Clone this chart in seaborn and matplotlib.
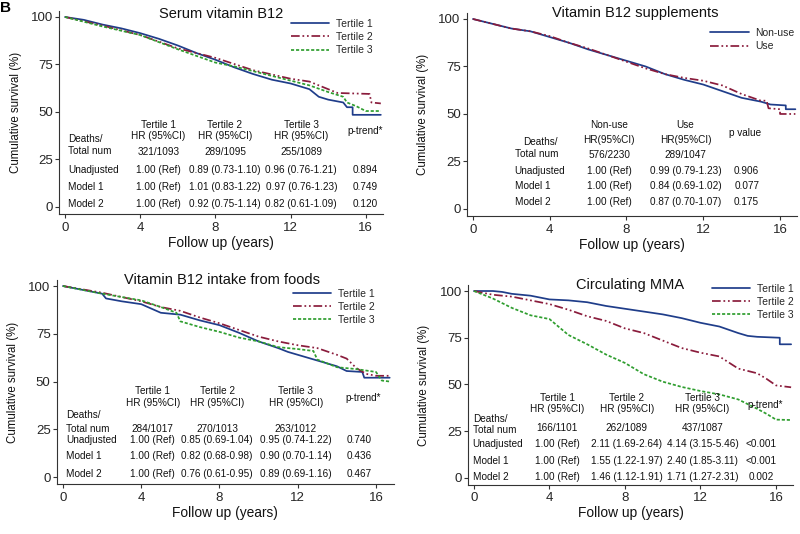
import matplotlib
matplotlib.use("Agg")
import matplotlib.pyplot as plt
import seaborn as sns
import pandas as pd

sns.set_theme(style="white")
plt.rcParams['font.family'] = ['Liberation Sans', 'DejaVu Sans']

# ---------------- data ----------------
# Panel 1: Serum vitamin B12
serum_t1_time = [0, 1, 2, 3, 4, 5, 6, 7, 8, 9, 10, 11, 12, 13, 13.5, 14, 14.8, 15, 15.3, 15.3, 16.8]
serum_t1_surv = [100, 98.5, 96, 94, 91.5, 88.5, 85, 81, 77.5, 73.5, 70, 67, 65, 62, 58, 56.5, 55, 52.5, 52.5, 48.5, 48.5]
serum_t2_time = [0, 2, 4, 6, 8, 10, 12, 13, 14, 14.5, 16.2, 16.3, 16.8]
serum_t2_surv = [100, 95.5, 90.5, 83.5, 78.5, 72, 67.5, 66, 62, 60, 59.5, 55, 54.5]
serum_t3_time = [0, 2, 4, 6, 7, 8, 9, 10, 11, 12, 13, 14, 14.8, 15, 15.5, 16, 16.8]
serum_t3_surv = [100, 95, 90.5, 83, 79.5, 76, 74, 71.5, 69, 66.5, 64, 60.5, 58, 55, 53, 50.5, 50.5]
serum_groups = ['Tertile 1', 'Tertile 2', 'Tertile 3']
serum_counts = ['321/1093', '289/1095', '255/1089']
serum_unadj = ['1.00 (Ref)', '0.89 (0.73-1.10)', '0.96 (0.76-1.21)']
serum_m1 = ['1.00 (Ref)', '1.01 (0.83-1.22)', '0.97 (0.76-1.23)']
serum_m2 = ['1.00 (Ref)', '0.92 (0.75-1.14)', '0.82 (0.61-1.09)']
serum_p = ['0.894', '0.749', '0.120']

# Panel 2: Vitamin B12 supplements
supp_non_time = [0, 2, 3, 4, 5, 6, 7, 8, 9, 10, 11, 12, 13, 14, 15, 15.5, 16.3, 16.3, 16.8]
supp_non_surv = [100, 95, 93.5, 90.5, 87.5, 84, 81, 78, 75, 71, 68, 65.5, 62, 58.5, 56.5, 55, 54.5, 52.5, 52.5]
supp_use_time = [0, 2, 3, 4, 5, 6, 7, 8, 9, 10, 11, 12, 13, 14, 15, 15.3, 15.4, 16, 16, 16.8]
supp_use_surv = [100, 95, 93.5, 91, 87.5, 84.5, 81, 77.5, 74, 71, 69, 67.5, 65, 60.5, 57, 57, 53, 52.5, 50, 50]
supp_groups = ['Non-use', 'Use']
supp_counts = ['576/2230', '289/1047']
supp_unadj = ['1.00 (Ref)', '0.99 (0.79-1.23)']
supp_m1 = ['1.00 (Ref)', '0.84 (0.69-1.02)']
supp_m2 = ['1.00 (Ref)', '0.87 (0.70-1.07)']
supp_p = ['0.906', '0.077', '0.175']

# Panel 3: Vitamin B12 intake from foods
food_t1_time = [0, 1, 2, 2.2, 3, 4, 5, 6, 7, 8, 9, 10, 11, 11.5, 12, 13, 14, 14.5, 15.3, 15.4, 16.7]
food_t1_surv = [100, 98, 96, 93.5, 92, 90.5, 86, 85, 82, 79.5, 75.5, 71, 67.5, 65.5, 64, 61, 58, 55.5, 55, 52, 52]
food_t2_time = [0, 2, 4, 5, 6, 7, 8, 9, 10, 11, 12, 13, 14, 14.5, 15, 15.5, 16, 16.7]
food_t2_surv = [100, 96.5, 92, 89, 87, 83.5, 80.5, 77, 73.5, 71, 69, 67.5, 64, 62, 57, 54, 53, 53]
food_t3_time = [0, 2, 4, 5, 5.8, 6, 7, 8, 9, 10, 11, 12, 12.8, 13, 14, 15, 16, 16.3, 16.7]
food_t3_surv = [100, 96, 92.5, 89, 86, 81.5, 78.5, 76, 73, 71, 68, 67, 66, 61.5, 57.5, 56.5, 55, 50.5, 50]
food_groups = ['Tertile 1', 'Tertile 2', 'Tertile 3']
food_counts = ['284/1017', '270/1013', '263/1012']
food_unadj = ['1.00 (Ref)', '0.85 (0.69-1.04)', '0.95 (0.74-1.22)']
food_m1 = ['1.00 (Ref)', '0.82 (0.68-0.98)', '0.90 (0.70-1.14)']
food_m2 = ['1.00 (Ref)', '0.76 (0.61-0.95)', '0.89 (0.69-1.16)']
food_p = ['0.740', '0.436', '0.467']

# Panel 4: Circulating MMA
mma_t1_time = [0, 1, 1.5, 2, 3, 4, 5, 6, 7, 8, 9, 10, 11, 12, 13, 14, 14.5, 15, 16.2, 16.2, 16.8]
mma_t1_surv = [100, 100, 99.5, 98.5, 97.5, 95.5, 95, 94, 92, 90.5, 89, 87.5, 85.5, 83, 81, 77.5, 76, 75.5, 75, 71.5, 71.5]
mma_t2_time = [0, 1, 2, 3, 4, 5, 6, 7, 8, 9, 10, 11, 12, 13, 14, 15, 15.5, 16, 16.8]
mma_t2_surv = [100, 98, 97, 95, 93, 90, 86.5, 84, 80, 77.5, 73.5, 69.5, 67, 65, 58.5, 56, 53, 49.5, 48.5]
mma_t3_time = [0, 1, 2, 3, 4, 5, 6, 7, 8, 9, 10, 11, 12, 13, 14, 15, 15.5, 16, 16.8]
mma_t3_surv = [100, 96, 91, 87, 85, 76.5, 71.5, 66, 61.5, 55.5, 51.5, 48.7, 46.5, 44.7, 42, 37, 34.3, 31.2, 31]
mma_groups = ['Tertile 1', 'Tertile 2', 'Tertile 3']
mma_counts = ['166/1101', '262/1089', '437/1087']
mma_unadj = ['1.00 (Ref)', '2.11 (1.69-2.64)', '4.14 (3.15-5.46)']
mma_m1 = ['1.00 (Ref)', '1.55 (1.22-1.97)', '2.40 (1.85-3.11)']
mma_m2 = ['1.00 (Ref)', '1.46 (1.12-1.91)', '1.71 (1.27-2.31)']
mma_p = ['<0.001', '<0.001', '0.002']

row_labels = ['Unadjusted', 'Model 1', 'Model 2']
yticks = [0, 25, 50, 75, 100]
xticks = [0, 4, 8, 12, 16]

# ---------------- styles ----------------
BLUE = '#1f3d8a'
RED = '#8a1c3c'
GREEN = '#2f9e2f'
styles = [dict(color=BLUE, linestyle='-'),
          dict(color=RED, linestyle=(0, (5, 1.6, 1, 1.6, 1, 1.6))),
          dict(color=GREEN, linestyle=(0, (1.8, 1.1)))]

W, H = 800, 534
fig = plt.figure(figsize=(8, 5.34), dpi=100)


def make_ax(x0, x1, ytop, ybot):
    return fig.add_axes([x0 / W, 1 - ybot / H, (x1 - x0) / W, (ybot - ytop) / H])


FS = 7.2


def draw_panel(ax, series, groups, title, title_xy, leg_anchor):
    for i, (t, s) in enumerate(series):
        df = pd.DataFrame({'time': t, 'surv': s})
        sns.lineplot(data=df, x='time', y='surv', ax=ax, estimator=None, sort=False,
                     lw=1.25, label=groups[i], **styles[i])
    ax.set_xlim(-0.3, 16.9)
    ax.set_ylim(-3.5, 103)
    ax.set_xticks(xticks)
    ax.set_yticks(yticks)
    ax.set_xticklabels([str(v) for v in xticks], fontsize=9.5)
    ax.set_yticklabels([str(v) for v in yticks], fontsize=9.5)
    ax.tick_params(axis='both', which='major', direction='out', length=3.2, width=0.8,
                   color='#333333', bottom=True, left=True, pad=1.5)
    ax.tick_params(axis='x', pad=2.5)
    for sp in ['top', 'right']:
        ax.spines[sp].set_visible(False)
    for sp in ['left', 'bottom']:
        ax.spines[sp].set_color('#333333')
        ax.spines[sp].set_linewidth(0.8)
    ax.set_xlabel('Follow up (years)', fontsize=9.9, labelpad=1.5, color='#111111')
    ax.set_ylabel('Cumulative survival (%)', fontsize=8.3, labelpad=6.5, color='#111111')
    ax.text(title_xy[0], title_xy[1], title, ha='center', va='center', fontsize=10.5,
            color='#111111')
    ax.legend(loc='upper left', bbox_to_anchor=leg_anchor, frameon=False, fontsize=7.5,
              handlelength=3.7, handletextpad=0.65, labelspacing=0.3, borderpad=0,
              borderaxespad=0)


def txt(ax, x, y, s, ha='center'):
    ax.text(x, y, s, ha=ha, va='center', fontsize=FS, color='#111111')


def draw_table(ax, lay, hdr1, hdr2, ptitle, counts, vals, pvals):
    lx = lay['lx']
    txt(ax, lay.get('dx', lx), lay['deaths'], 'Deaths/', ha='left')
    txt(ax, lx, lay['total'], 'Total num', ha='left')
    for j, cx in enumerate(lay['cols']):
        txt(ax, cx, lay['h1'], hdr1[j])
        txt(ax, cx, lay['h2'], hdr2[j])
        txt(ax, cx, lay['counts'], counts[j])
    txt(ax, lay['ptx'], lay['pt'], ptitle)
    for r, ry in enumerate(lay['rows']):
        txt(ax, lx, ry, row_labels[r], ha='left')
        for j, cx in enumerate(lay['cols']):
            txt(ax, cx, ry, vals[r][j])
        txt(ax, lay['pcol'], ry, pvals[r])


# Panel 1
ax1 = make_ax(59.4, 382.7, 11.3, 213.6)
draw_panel(ax1, [(serum_t1_time, serum_t1_surv), (serum_t2_time, serum_t2_surv),
                 (serum_t3_time, serum_t3_surv)], serum_groups, 'Serum vitamin B12',
           (8.3, 101.8), (0.715, 0.962))
draw_table(ax1, dict(lx=0.18, deaths=35.8, total=29.6, cols=[4.96, 8.51, 12.57], h1=43.3,
                     h2=37.2, counts=28.9, ptx=15.96, pt=39.8, rows=[19.6, 10.5, 1.4],
                     pcol=15.96),
           serum_groups, ['HR (95%CI)'] * 3, 'p-trend*', serum_counts,
           [serum_unadj, serum_m1, serum_m2], serum_p)

# Panel 2
ax2 = make_ax(467.2, 797.3, 13.3, 215.6)
draw_panel(ax2, [(supp_non_time, supp_non_surv), (supp_use_time, supp_use_surv)],
           supp_groups, 'Vitamin B12 supplements', (8.45, 103), (0.736, 0.927))
draw_table(ax2, dict(lx=2.17, dx=2.64, deaths=35.4, total=28.8, cols=[7.1, 11.08], h1=44.3,
                     h2=36.3, counts=28.4, ptx=14.2, pt=40.2, rows=[20.0, 12.1, 3.7],
                     pcol=14.26),
           supp_groups, ['HR(95%CI)'] * 2, 'p value', supp_counts,
           [supp_unadj, supp_m1, supp_m2], supp_p)

# Panel 3
ax3 = make_ax(57.1, 393.6, 280.3, 483.7)
draw_panel(ax3, [(food_t1_time, food_t1_surv), (food_t2_time, food_t2_surv),
                 (food_t3_time, food_t3_surv)], food_groups, 'Vitamin B12 intake from foods',
           (8.12, 103.1), (0.70, 0.959))
draw_table(ax3, dict(lx=0.17, deaths=32.5, total=25.3, cols=[4.59, 7.88, 11.91], h1=45.1,
                     h2=38.8, counts=25.3, ptx=15.33, pt=41.6, rows=[19.6, 10.8, 1.7],
                     pcol=15.15),
           food_groups, ['HR (95%CI)'] * 3, 'p-trend*', food_counts,
           [food_unadj, food_m1, food_m2], food_p)

# Panel 4
ax4 = make_ax(468.3, 793.0, 285.4, 484.5)
draw_panel(ax4, [(mma_t1_time, mma_t1_surv), (mma_t2_time, mma_t2_surv),
                 (mma_t3_time, mma_t3_surv)], mma_groups, 'Circulating MMA',
           (8.25, 103.2), (0.75, 1.009))
draw_table(ax4, dict(lx=-0.07, deaths=31.7, total=25.4, cols=[4.42, 8.09, 12.1], h1=42.9,
                     h2=36.9, counts=26.8, ptx=15.45, pt=39.2, rows=[18.2, 9.3, 0.7],
                     pcol=15.23),
           mma_groups, ['HR (95%CI)'] * 3, 'p-trend*', mma_counts,
           [mma_unadj, mma_m1, mma_m2], mma_p)

fig.text(0.0, 0.999, 'B', ha='left', va='top', fontsize=11, fontweight='bold', color='black')

fig.savefig('out.png', dpi=100, facecolor='white')
